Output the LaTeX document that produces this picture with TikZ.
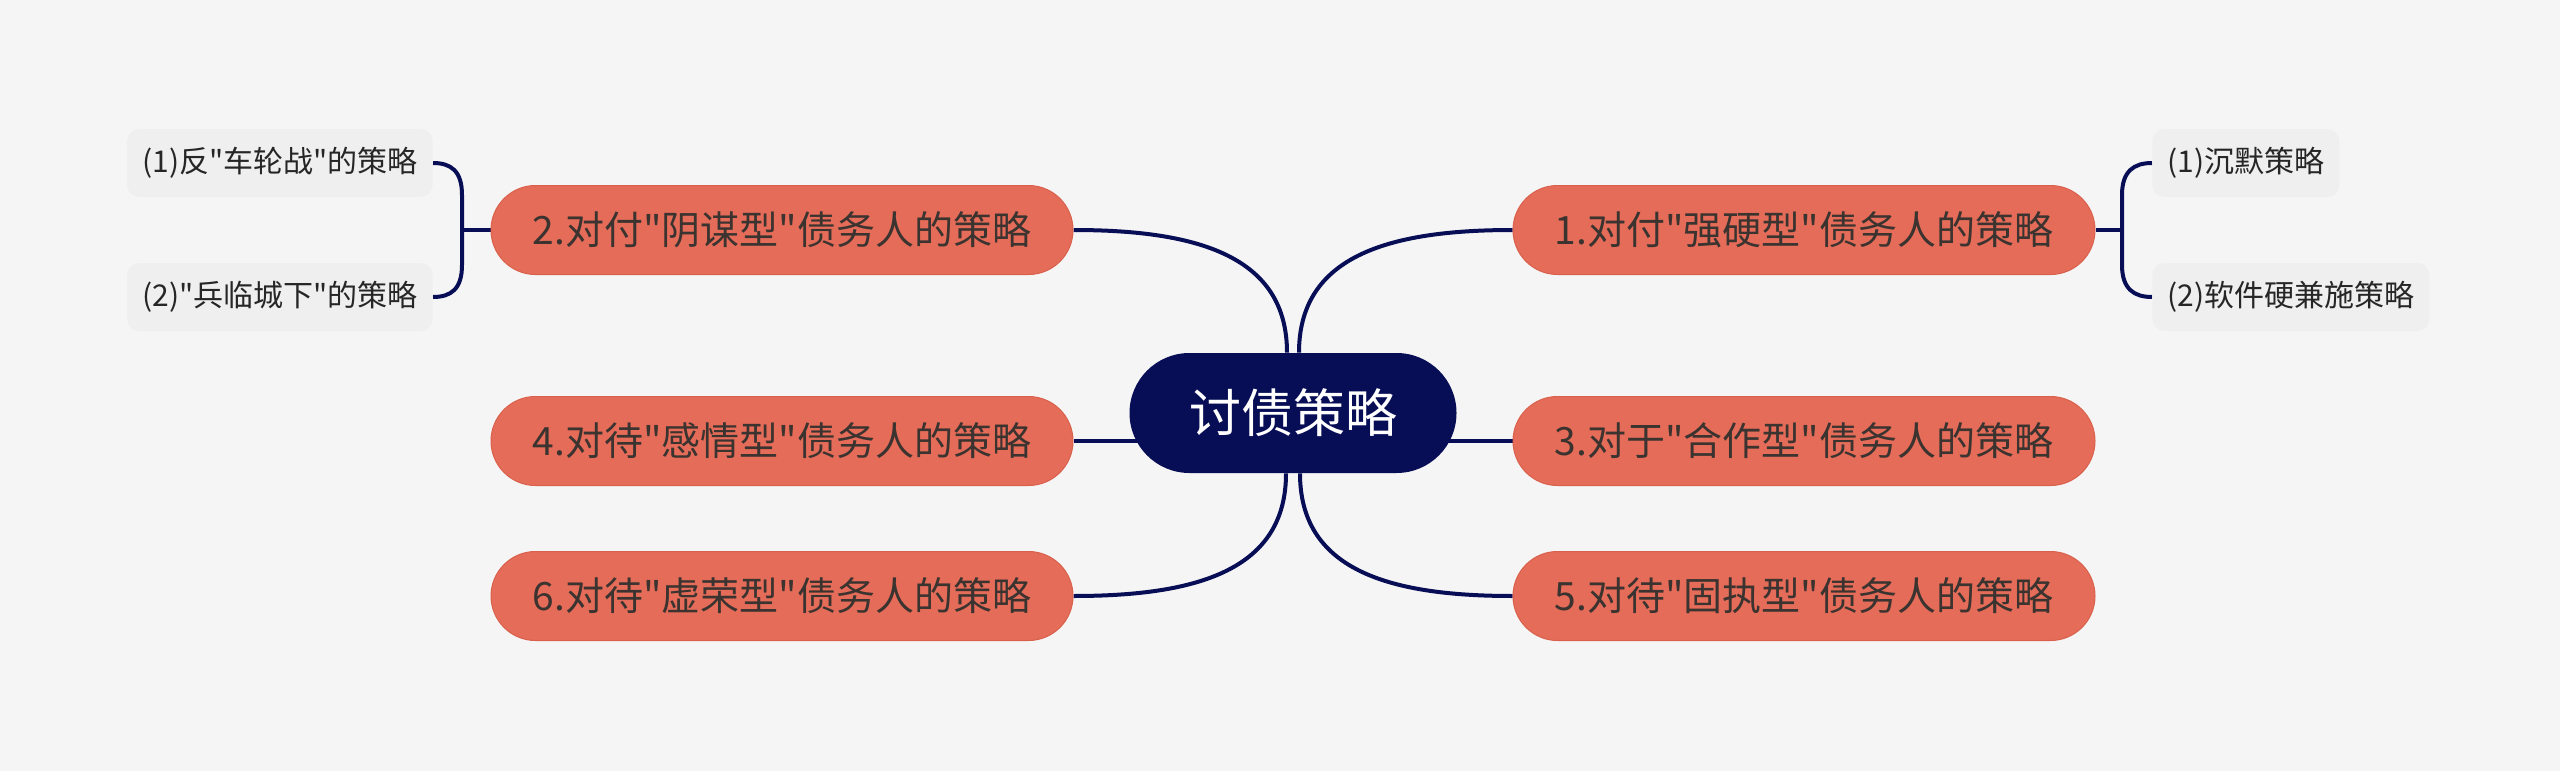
\documentclass[tikz,border=0pt]{standalone}
\usepackage{fontspec}
\newfontfamily\cjk{Noto Sans CJK SC}
\usetikzlibrary{backgrounds,calc,shapes.misc}
\definecolor{bgc}{HTML}{F5F5F5}
\definecolor{navyc}{HTML}{080E56}
\definecolor{salmonc}{HTML}{E46C58}
\definecolor{salmonb}{HTML}{D9614C}
\definecolor{textc}{HTML}{3A3330}
\definecolor{leafc}{HTML}{EFEFEF}
\definecolor{leaftc}{HTML}{262626}
\begin{document}
\begin{tikzpicture}[x=0.5pt,y=-0.5pt,
  root/.style={rounded rectangle, fill=navyc, text=white, font=\cjk\fontsize{26}{30}\selectfont, minimum width=163.5pt, minimum height=60pt, inner sep=0pt},
  topic/.style={rounded rectangle, fill=salmonc, draw=salmonb, line width=0.5pt, text=textc, font=\cjk\fontsize{19.5}{23}\selectfont, minimum width=291pt, minimum height=44.5pt, inner sep=0pt},
  leaf/.style={rectangle, rounded corners=6pt, fill=leafc, text=leaftc, font=\cjk\fontsize{15}{18}\selectfont, minimum height=34pt, inner xsep=7.5pt, inner ysep=0pt},
  conn/.style={draw=navyc, line width=2pt}]
\useasboundingbox (0,0) rectangle (2560,771);
\node[root] (c) at (1293,413) {讨债策略};
\node[topic] (n1) at (1804,230) {1.对付"强硬型"债务人的策略};
\node[topic] (n2) at (782,230) {2.对付"阴谋型"债务人的策略};
\node[topic] (n3) at (1804,441) {3.对于"合作型"债务人的策略};
\node[topic] (n4) at (782,441) {4.对待"感情型"债务人的策略};
\node[topic] (n5) at (1804,596) {5.对待"固执型"债务人的策略};
\node[topic] (n6) at (782,596) {6.对待"虚荣型"债务人的策略};
\node[leaf, anchor=east] (l1) at (433,163) {(1)反"车轮战"的策略};
\node[leaf, anchor=east] (l2) at (433,297) {(2)"兵临城下"的策略};
\node[leaf, anchor=west] (r1) at (2152,163) {(1)沉默策略};
\node[leaf, anchor=west] (r2) at (2152,297) {(2)软件硬兼施策略};
\coordinate (jl) at (462,230);
\coordinate (jr) at (2122,230);
\begin{scope}[on background layer]
  \fill[bgc] (0,0) rectangle (2560,771);
  \draw[conn] (n2.east) .. controls +(127,0) and +(0,-95) .. ($(c.north)+(-6,0)$);
  \draw[conn] (n1.west) .. controls +(-127,0) and +(0,-95) .. ($(c.north)+(6,0)$);
  \draw[conn] (n6.east) .. controls +(127,0) and +(0,95) .. ($(c.south)+(-7,0)$);
  \draw[conn] (n5.west) .. controls +(-127,0) and +(0,95) .. ($(c.south)+(7,0)$);
  \draw[conn] (n4.east) -- (c.center |- n4.east);
  \draw[conn] (n3.west) -- (c.center |- n3.west);
  \draw[conn] (n2.west) -- (jl);
  \draw[conn] (jl) -- ++(0,-35) .. controls +(0,-24) and +(18,0) .. (l1.east);
  \draw[conn] (jl) -- ++(0,35) .. controls +(0,24) and +(18,0) .. (l2.east);
  \draw[conn] (n1.east) -- (jr);
  \draw[conn] (jr) -- ++(0,-35) .. controls +(0,-24) and +(-18,0) .. (r1.west);
  \draw[conn] (jr) -- ++(0,35) .. controls +(0,24) and +(-18,0) .. (r2.west);
\end{scope}
\end{tikzpicture}
\end{document}
